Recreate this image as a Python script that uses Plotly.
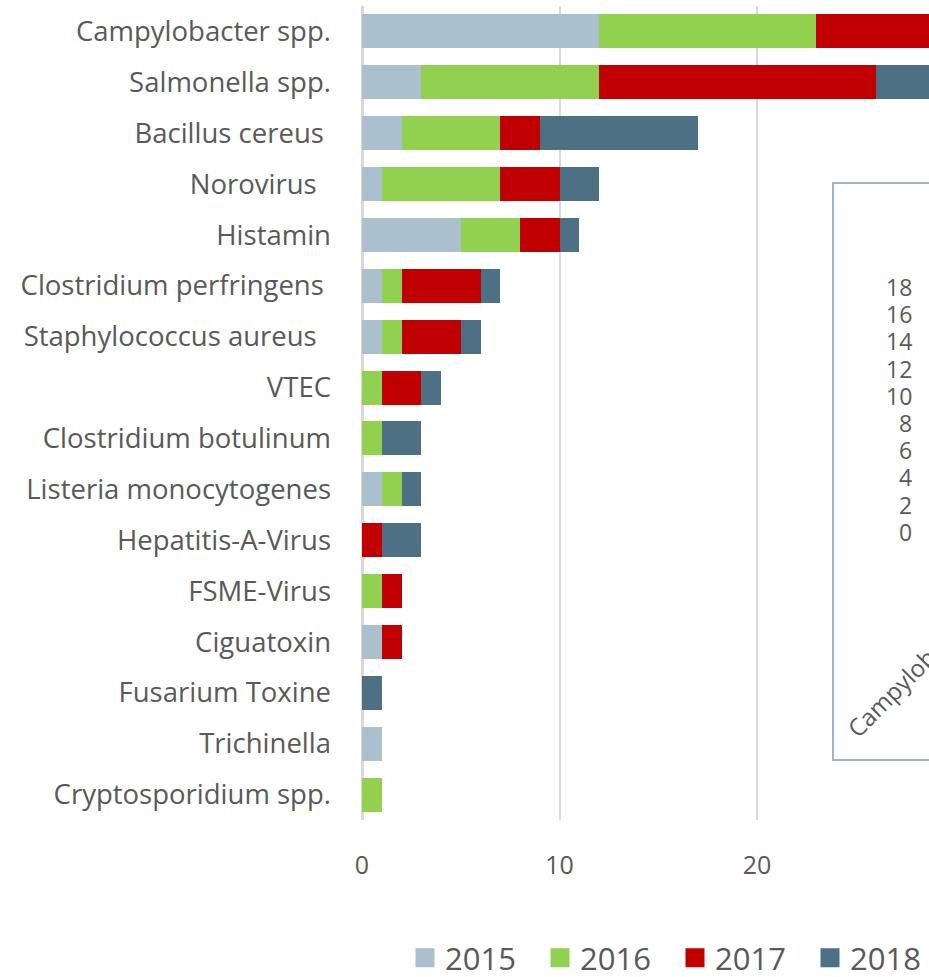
import plotly.graph_objects as go

categories = ["Campylobacter spp.", "Salmonella spp.", "Bacillus cereus\u00a0", "Norovirus\u00a0\u00a0",
              "Histamin", "Clostridium perfringens\u00a0", "Staphylococcus aureus\u00a0\u00a0", "VTEC",
              "Clostridium botulinum", "Listeria monocytogenes", "Hepatitis-A-Virus", "FSME-Virus",
              "Ciguatoxin", "Fusarium Toxine", "Trichinella", "Cryptosporidium spp."]
v2015 = [12, 3, 2, 1, 5, 1, 1, 0, 0, 1, 0, 0, 1, 0, 1, 0]
v2016 = [11, 9, 5, 6, 3, 1, 1, 1, 1, 1, 0, 1, 0, 0, 0, 1]
v2017 = [7, 14, 2, 3, 2, 4, 3, 2, 0, 0, 1, 1, 1, 0, 0, 0]
v2018 = [3, 4, 8, 2, 1, 1, 1, 1, 2, 1, 2, 0, 0, 1, 0, 0]
years = ["2015", "2016", "2017", "2018"]
colors = ["#AAC0CD", "#92D050", "#C00000", "#4E7084"]
x_ticks = [0, 10, 20]
inset_ticks = [18, 16, 14, 12, 10, 8, 6, 4, 2, 0]
inset_label = "Campylobacter spp."

FONT = "Open Sans"
GREY = "#595959"

fig = go.Figure()
for name, vals, col in zip(years, [v2015, v2016, v2017, v2018], colors):
    fig.add_trace(go.Bar(y=categories, x=vals, name=name, orientation="h", showlegend=False,
                         legendgroup=name, marker=dict(color=col, line=dict(width=0))))
# legend entries with larger square swatches
for name, col in zip(years, colors):
    fig.add_trace(go.Scatter(x=[None], y=[None], mode="markers", name=name, legendgroup=name,
                             marker=dict(symbol="square", size=16, color=col,
                                         line=dict(color=col, width=3))))

W, H = 929, 977
L, R, T, B = 362, 0, 6, 157
pw, ph = W - L - R, H - T - B

def px(x):
    return (x - L) / pw

def py(y):
    return (H - B - y) / ph

shapes = [dict(type="rect", xref="paper", yref="paper", x0=px(833), x1=1.2, y0=py(760), y1=py(183),
               line=dict(color="#9DB4C8", width=2), fillcolor="rgba(0,0,0,0)", layer="above")]
annotations = []
for i, t in enumerate(inset_ticks):
    annotations.append(dict(xref="paper", yref="paper", x=px(914), y=py(287 + i * 27.2), text=str(t),
                            showarrow=False, xanchor="right", yanchor="middle",
                            font=dict(family=FONT, size=23, color=GREY)))
annotations.append(dict(xref="paper", yref="paper", x=px(837), y=py(747), text=inset_label,
                        showarrow=False, xanchor="left", yanchor="bottom", textangle=-45,
                        font=dict(family=FONT, size=24, color=GREY)))

fig.update_layout(
    width=W, height=H, barmode="stack", bargap=0.33,
    margin=dict(l=L, r=R, t=T, b=B, pad=0, autoexpand=False),
    plot_bgcolor="white", paper_bgcolor="white",
    font=dict(family=FONT, color=GREY),
    xaxis=dict(range=[0, pw / 19.75], tickvals=x_ticks, showgrid=True, gridcolor="#D9D9D9", gridwidth=2,
               zeroline=True, zerolinecolor="#D9D9D9", zerolinewidth=3, showline=False,
               tickfont=dict(family=FONT, size=25, color=GREY), ticklabelstandoff=28),
    yaxis=dict(categoryorder="array", categoryarray=categories, autorange="reversed",
               tickfont=dict(family=FONT, size=27.5, color=GREY), ticklabelstandoff=30,
               showgrid=False, showline=False),
    legend=dict(orientation="h", x=px(405), y=py(958), xanchor="left", yanchor="middle",
                font=dict(family=FONT, size=31, color=GREY), traceorder="normal", itemwidth=30,
                entrywidth=90, entrywidthmode="pixels"),
    shapes=shapes, annotations=annotations,
)

fig.write_html("out.html", post_script="document.body.style.margin='0px';",
               config={"displayModeBar": False})
